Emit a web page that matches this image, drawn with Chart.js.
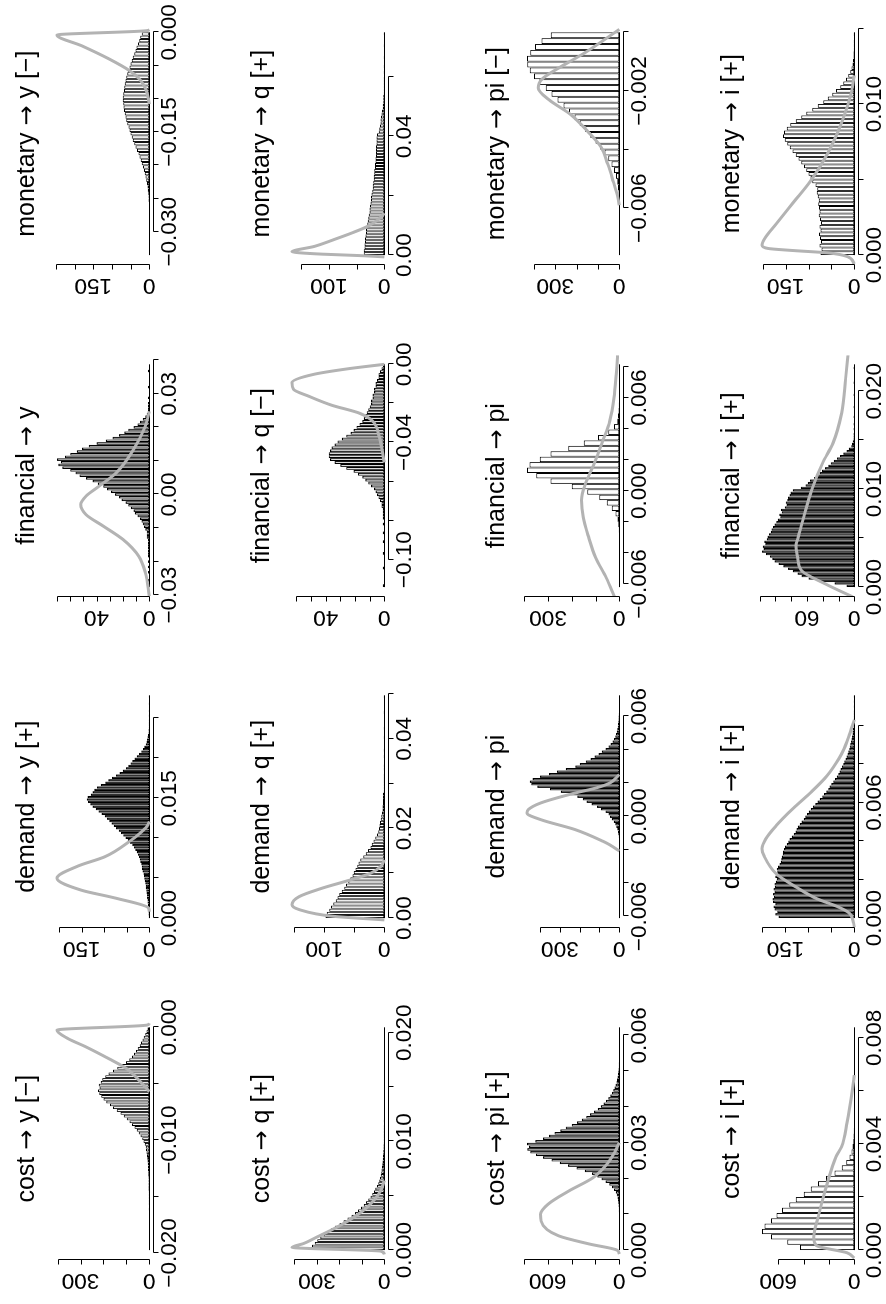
<!DOCTYPE html>
<html>
<head>
<meta charset="utf-8">
<title>Impact responses by shock</title>
<script src="https://cdn.jsdelivr.net/npm/chart.js@4.4.1/dist/chart.umd.min.js"></script>
<style>
  html, body { margin: 0; padding: 0; background: #fff; }
  body { width: 886px; height: 1304px; overflow: hidden; position: relative; }
  /* the 4x4 grid is laid out landscape and turned a quarter turn to the left */
  #sheet { position: absolute; left: 0; top: 0; width: 1304px; height: 886px;
           transform-origin: 0 0; transform: translate(0, 1304px) rotate(-90deg); }
  #sheet canvas { position: absolute; }
</style>
</head>
<body>
<div id="sheet"></div>
<script>
// ---- histogram counts (equal-width bins, left to right) ----
const yCost = [1,0,1,0,1,1,0,1,1,1,1,1,1,1,2,1,2,2,2,2,2,3,3,3,4,4,5,5,6,6,7,8,9,10,12,14,16,20,25,31,38,46,55,65,76,86,98,112,126,142,158,172,188,200,210,219,224,217,221,212,205,192,178,158,140,120,102,88,76,67,58,50,42,36,30,24,18,12,8];
const yDemand = [1,2,2,3,3,3,4,4,5,5,6,7,8,8,9,10,11,12,13,15,16,17,18,20,21,23,25,28,31,34,38,43,48,53,58,63,68,74,79,84,89,94,99,106,113,119,126,131,136,139,137,130,126,122,116,108,98,91,83,74,66,59,52,47,42,38,33,28,23,18,14,11,8,6,5,4,3,2,2,1,1,1,1,0,1,0,1,0,0,1,0,0,1];
const yFinancial = [0,0,1,0,0,1,0,1,0,1,0,1,1,1,1,1,1,1,2,2,2,3,4,5,6,7,9,11,12,14,16,18,21,23,26,29,32,35,39,43,48,53,56,60,66,69,67,70,64,60,55,51,46,40,33,28,23,19,16,12,9,7,5,3,2,1,1,1,1,0,1,0,0,0,1,0,0,0,0,0,1,0,0];
const yMonetary = [0,1,0,0,0,1,0,0,1,1,0,1,1,1,1,1,2,2,3,4,5,6,8,10,12,14,17,20,23,26,29,33,37,40,44,47,50,53,56,59,62,64,66,68,69,70,71,71,70,68,67,66,64,62,59,57,53,50,47,44,40,37,34,30,27,24,20];

const qCost = [338,322,310,298,285,271,255,238,220,200,182,164,146,130,117,104,92,81,71,62,54,46,40,33,27,23,19,16,14,12,10,9,8,7,6,5,5,4,4,3,3,3,2,2,2,2,1,2,1,1,1,1,1,0,1,1,0,1,0,0,1,0,1,0,0,0,1,0,0,1,0,0,0,0,1,0,0,0,0,1,0,1];
const qDemand = [98,96,92,89,85,81,78,75,71,67,64,60,57,53,51,48,45,43,40,35,31,27,23,21,18,15,12,10,9,8,7,6,5,4,3,3,2,2,2,2,1,1,1,1,1,1,0,1,1,0,0,1,0,1,0,0,0,1,0,0,1,0,0,0,0,1,0,0,0,0,1];
const qFinancial = [1,0,0,0,0,0,1,0,0,0,0,1,0,0,0,1,0,0,1,0,0,1,0,1,1,1,1,2,2,3,4,5,6,7,9,11,13,15,18,21,26,30,34,37,38,38,37,36,34,32,29,26,23,21,19,17,15,14,13,12,11,10,9,9,8,8,7,7,6,6,5,4,4,3,2,1];
const qMonetary = [37,37,36,36,35,35,34,33,33,32,31,30,29,28,27,27,26,25,24,24,23,22,21,21,20,19,19,18,18,17,17,16,16,15,15,15,15,14,14,14,13,10,9,8,7,7,6,5,4,3,3,2,2,2,1,1,1,1,1,1,0,1,0,1,0,0,1,0,0,0,1,0,0,0,1];

const piCost = [0,0,0,1,0,0,1,0,1,1,1,2,2,3,4,5,7,9,12,15,22,30,45,62,85,115,150,185,230,290,360,430,500,570,640,700,748,772,758,775,705,640,590,545,495,450,400,355,315,278,245,212,180,155,132,112,92,76,62,50,40,31,24,19,15,11,9,7,5,4,3,3,2,2,1,1,1,0,1,0,1,0,0];
const piDemand = [0,0,1,0,0,0,0,0,1,0,0,0,0,1,0,0,0,1,0,0,0,1,0,0,1,0,1,1,1,1,2,2,3,5,7,10,15,21,28,38,47,55,70,92,112,140,165,185,212,248,295,350,414,445,452,438,400,355,315,270,222,200,170,145,125,105,88,70,55,44,34,27,21,17,13,10,8,7,5,4,4,3,2,2,2,1,1,1,1];
const piFinancial = [0,0,0,1,0,0,1,1,1,1,2,4,8,16,32,53,85,135,200,290,350,389,378,335,290,215,150,90,47,22,9,5,3,2,1,1,0,1,0,0,0];
const piMonetary = [1,0,0,1,0,1,1,1,2,3,4,6,10,16,25,37,52,70,90,112,136,160,185,210,236,262,290,318,345,375,400,420,432,433,418,395,365,321];

const iCost = [429,530,657,729,709,657,614,571,514,463,400,343,286,223,157,100,63,37,23,14,9,6,4,3,2,1,1,1,0,1,0,0,1,0,0,0,0,1,0,0,0,0];
const iDemand = [165,172,168,174,176,172,177,178,175,177,174,176,173,174,171,169,172,170,168,169,166,163,160,159,158,156,155,153,151,147,144,141,136,132,128,126,123,119,115,110,107,103,99,95,90,85,80,75,70,66,61,57,54,50,46,42,38,35,32,30,27,24,22,19,17,15,13,11,10,9,7,6,5,4,4,3,2,2,1,1,1,1,1,0,1,0,1,0,1];
const iFinancial = [10,25,45,58,67,72,78,84,90,96,101,104,107,112,117,115,116,113,114,111,110,108,106,105,103,101,99,97,94,95,92,93,88,86,87,85,84,82,81,78,68,62,59,56,51,47,44,41,37,33,30,26,22,18,14,10,7,4,3,2,1,1,1,0,1,0,1,0,0,1,0,0,0,1,0,0,0,0,1,0,0,0,0,1,0,0,0,0,0,1,0];
const iMonetary = [74,72,76,73,75,77,74,76,73,75,78,76,77,79,78,80,82,81,85,92,96,100,105,110,116,122,128,135,141,147,152,156,154,148,140,128,116,105,92,80,68,58,48,40,31,24,18,13,9,6,4,3,2,2,1,1,1,0,1];

// ---- grey reference curves, [value, height on the count scale] ----
const yCostCurve = [[-0.0057,0],[-0.0048,40],[-0.00365,100],[-0.0028,175],[-0.0017,280],[-0.001,355],[-0.00024,403],[0.0002,10],[0.00036,0]];
const yDemandCurve = [[0.0008,0],[0.00125,1.5],[0.0025,75],[0.0035,151],[0.005,205],[0.0065,159],[0.0077,98],[0.0096,44],[0.0106,21],[0.0115,5],[0.0121,0]];
const yFinancialCurve = [[-0.0303,0],[-0.0233,3],[-0.0184,8],[-0.0134,20],[-0.0094,35],[-0.006,48],[-0.003,52],[-0.0005,48],[0.0025,38],[0.0065,25],[0.0134,12],[0.0204,3],[0.0248,0]];
const yMonetaryCurve = [[-0.0108,0],[-0.0101,2],[-0.0085,10],[-0.0071,25],[-0.0058,52],[-0.004,108],[-0.002,182],[-0.0004,247],[0.00025,6],[0.0004,0]];

const qCostCurve = [[-0.0004,0],[-0.0001,15],[0.00025,411],[0.0006,360],[0.0012,300],[0.0018,240],[0.0027,160],[0.0037,90],[0.0046,45],[0.0055,15],[0.0064,0]];
const qDemandCurve = [[-0.0004,0],[0.0004,85],[0.0019,142],[0.003,154],[0.0048,142],[0.0067,103],[0.0085,57],[0.01,23],[0.0115,6],[0.013,0]];
const qFinancialCurve = [[-0.0502,0],[-0.0366,3.6],[-0.029,8],[-0.025,17],[-0.0209,36],[-0.0162,52],[-0.0128,62],[-0.0094,63],[-0.0051,48],[-0.0022,24],[0,0]];
const qMonetaryCurve = [[-0.0006,0],[-0.0002,40],[0.0003,110],[0.0008,155],[0.0011,167],[0.003,125],[0.0051,93],[0.0075,58],[0.0096,31],[0.0118,12],[0.0141,0]];

const piCostCurve = [[-0.00011,0],[0,20],[0.00017,251],[0.0004,511],[0.00081,656],[0.001,661],[0.00128,598],[0.00165,425],[0.00202,222],[0.00239,107],[0.00276,35],[0.003,0]];
const piDemandCurve = [[-0.00208,0],[-0.0017,50],[-0.0015,82],[-0.0008,222],[-0.0002,397],[0.0002,466],[0.0004,460],[0.0008,397],[0.0014,222],[0.0017,117],[0.002,47],[0.0025,0]];
const piFinancialCurve = [[-0.0069,18],[-0.0056,55],[-0.0043,100],[-0.003,129],[-0.0017,152],[-0.0006,159],[0.0004,144],[0.0017,107],[0.0032,70],[0.0045,40],[0.006,22],[0.0075,13],[0.0088,7]];
const piMonetaryCurve = [[-0.0059,0],[-0.0056,8],[-0.0051,28],[-0.0045,54],[-0.0039,87],[-0.0034,146],[-0.0028,229],[-0.0023,330],[-0.0019,380],[-0.0016,363],[-0.0012,280],[-0.0007,162],[0.0001,0]];

const iCostCurve = [[-0.0003,0],[-0.0001,57],[0.00017,300],[0.00048,320],[0.00124,286],[0.00226,229],[0.00353,143],[0.0039,100],[0.0048,57],[0.00607,14],[0.0066,0]];
const iDemandCurve = [[-0.0005,0],[-0.00026,1.5],[0.00026,11],[0.0006,37],[0.001,81],[0.0016,126],[0.0023,170],[0.0032,196],[0.0036,201],[0.0041,193],[0.0048,170],[0.0057,133],[0.0065,96],[0.0074,59],[0.0083,33],[0.0088,22],[0.0095,11],[0.0103,0]];
const iFinancialCurve = [[-0.001,2],[0.0003,36],[0.0017,67],[0.0031,72],[0.0042,74],[0.0051,71],[0.0075,63],[0.0099,54],[0.0127,40],[0.0147,27],[0.0178,16],[0.0213,11],[0.0238,8]];
const iMonetaryCurve = [[-0.0006,0],[-0.0001,15],[0.00015,59],[0.0003,133],[0.00044,189],[0.00066,202],[0.0011,196],[0.0021,170],[0.0035,133],[0.0049,96],[0.0067,59],[0.0089,26],[0.0107,7],[0.0119,0]];

// ---- panel grid: rows are responses, columns are shocks ----
const shocks = ['cost', 'demand', 'financial', 'monetary'];
const responses = ['y', 'q', 'pi', 'i'];
const signs = [
  ['[−]', '[+]', '', '[−]'],
  ['[+]', '[+]', '[−]', '[+]'],
  ['[+]', '', '', '[−]'],
  ['[+]', '[+]', '[+]', '[+]']
];
const counts = [
  [yCost, yDemand, yFinancial, yMonetary],
  [qCost, qDemand, qFinancial, qMonetary],
  [piCost, piDemand, piFinancial, piMonetary],
  [iCost, iDemand, iFinancial, iMonetary]
];
const curves = [
  [yCostCurve, yDemandCurve, yFinancialCurve, yMonetaryCurve],
  [qCostCurve, qDemandCurve, qFinancialCurve, qMonetaryCurve],
  [piCostCurve, piDemandCurve, piFinancialCurve, piMonetaryCurve],
  [iCostCurve, iDemandCurve, iFinancialCurve, iMonetaryCurve]
];
const binStart = [
  [-0.01975, 0, -0.0276, -0.0335],
  [0, 0, -0.114, 0],
  [0, -0.0061, -0.0062, -0.0076],
  [0, 0, 0, 0]
];
const binWidth = [
  [0.00025, 0.0003, 0.0008, 0.0005],
  [0.00025, 0.0007, 0.0015, 0.001],
  [0.000075, 0.00015, 0.00035, 0.0002],
  [0.0002, 0.00013, 0.00025, 0.00025]
];

// value-axis ticks and the labels R kept after dropping overlaps
const valueTicks = [
  [[-0.02,-0.015,-0.01,-0.005,0], [0,0.005,0.01,0.015,0.02,0.025], [-0.03,-0.02,-0.01,0,0.01,0.02,0.03,0.04], [-0.03,-0.025,-0.02,-0.015,-0.01,-0.005,0]],
  [[0,0.005,0.01,0.015,0.02], [0,0.01,0.02,0.03,0.04,0.05], [-0.1,-0.08,-0.06,-0.04,-0.02,0], [0,0.02,0.04,0.06]],
  [[0,0.001,0.002,0.003,0.004,0.005,0.006], [-0.006,-0.004,-0.002,0,0.002,0.004,0.006], [-0.006,-0.004,-0.002,0,0.002,0.004,0.006,0.008], [-0.006,-0.004,-0.002,0]],
  [[0,0.002,0.004,0.006,0.008], [0,0.002,0.004,0.006,0.008,0.01], [0,0.005,0.01,0.015,0.02], [0,0.005,0.01,0.015]]
];
const valueLabels = [
  [['−0.020','','−0.010','','0.000'], ['0.000','','','0.015','',''], ['−0.03','','','0.00','','','0.03',''], ['−0.030','','','−0.015','','','0.000']],
  [['0.000','','0.010','','0.020'], ['0.00','','0.02','','0.04',''], ['−0.10','','','−0.04','','0.00'], ['0.00','','0.04','']],
  [['0.000','','','0.003','','','0.006'], ['−0.006','','','0.000','','','0.006'], ['−0.006','','','0.000','','','0.006',''], ['−0.006','','−0.002','']],
  [['0.000','','0.004','','0.008'], ['0.000','','','0.006','',''], ['0.000','','0.010','','0.020'], ['0.000','','0.010','']]
];
const countTicks = [
  [[0,100,200,300,400], [0,50,100,150,200], [0,10,20,30,40,50,60,70], [0,50,100,150,200,250]],
  [[0,100,200,300,400], [0,50,100,150], [0,10,20,30,40,50,60], [0,50,100,150]],
  [[0,200,400,600,800], [0,100,200,300,400], [0,100,200,300,400], [0,100,200,300,400]],
  [[0,200,400,600], [0,50,100,150,200], [0,20,40,60,80,100,120], [0,50,100,150,200]]
];
const countLabels = [
  [['0','','','300',''], ['0','','','150',''], ['0','','','','40','','',''], ['0','','','150','','']],
  [['0','','','300',''], ['0','','100',''], ['0','','','','40','',''], ['0','','100','']],
  [['0','','','600',''], ['0','','','300',''], ['0','','','300',''], ['0','','','300','']],
  [['0','','','600'], ['0','','','150',''], ['0','','','60','','',''], ['0','','','150','']]
];

// bar outline weight: the finely binned panels print almost solid
const barEdge = [
  [1, 1.15, 1.15, 1],
  [1, 1, 1.15, 1],
  [1.15, 1.15, 1, 1],
  [1, 1.15, 1.15, 1]
];

// ---- page geometry (landscape frame before the quarter turn) ----
const FONT = '"Liberation Sans", Arial, Helvetica, sans-serif';
const ARROW_FONT = '"DejaVu Sans", sans-serif';
const CELL_W = 331, CELL_H = 235;
const PLOT_W = 240.6, PLOT_H = 99.7;
const PAD_LEFT = 45, PAD_TOP = 53.3;
const colLeft = [0, 332, 663, 995];
const TICK = 5;

// title set in pieces so the arrow gets a long-shafted glyph
function drawTitle(ctx, parts, cx, baseline) {
  const fonts = ['25px ' + FONT, '24px ' + ARROW_FONT, '25px ' + FONT];
  const widths = parts.map((s, k) => { ctx.font = fonts[k]; return ctx.measureText(s).width; });
  let x0 = cx - widths.reduce((a, b) => a + b, 0) / 2;
  ctx.textAlign = 'left';
  parts.forEach((s, k) => {
    ctx.font = fonts[k];
    ctx.fillText(s, x0, baseline);
    x0 += widths[k];
  });
}

// R-style axes: lines only span the tick range, labels outside the plot region
function rAxes(p) {
  return {
    id: 'rAxes',
    beforeDatasetsDraw(chart) {
      // empty bins still print as a flat outline along zero
      const { ctx, scales: { x, y } } = chart;
      const y0 = Math.round(y.getPixelForValue(0)) + 0.5;
      ctx.save();
      ctx.strokeStyle = '#000';
      ctx.lineWidth = 1;
      ctx.beginPath();
      ctx.moveTo(x.getPixelForValue(p.lo), y0);
      ctx.lineTo(x.getPixelForValue(p.hi), y0);
      ctx.stroke();
      ctx.restore();
    },
    afterDatasetsDraw(chart) {
      const { ctx, chartArea: a, scales: { x, y } } = chart;
      ctx.save();
      ctx.strokeStyle = '#000';
      ctx.fillStyle = '#000';
      ctx.lineWidth = 1;

      const by = Math.round(a.bottom) + 0.5;
      const xs = p.xTicks.map(v => Math.round(x.getPixelForValue(v)) + 0.5);
      const lx = Math.round(a.left) - 0.5;
      const ys = p.yTicks.map(v => Math.round(y.getPixelForValue(v)) + 0.5);

      ctx.beginPath();
      ctx.moveTo(xs[0], by);
      ctx.lineTo(xs[xs.length - 1], by);
      xs.forEach(px => { ctx.moveTo(px, by); ctx.lineTo(px, by + TICK); });
      ctx.moveTo(lx, ys[0]);
      ctx.lineTo(lx, ys[ys.length - 1]);
      ys.forEach(py => { ctx.moveTo(lx, py); ctx.lineTo(lx - TICK, py); });
      ctx.stroke();

      ctx.font = '22.5px ' + FONT;
      ctx.textAlign = 'center';
      ctx.textBaseline = 'alphabetic';
      p.xLabels.forEach((s, k) => {
        if (s) ctx.fillText(s, x.getPixelForValue(p.xTicks[k]), a.bottom + 23);
      });
      p.yLabels.forEach((s, k) => {
        if (!s) return;
        ctx.save();
        ctx.translate(a.left - 15.5, y.getPixelForValue(p.yTicks[k]));
        ctx.rotate(-Math.PI / 2);
        ctx.fillText(s, 0, 0);
        ctx.restore();
      });

      drawTitle(ctx, p.title, (a.left + a.right) / 2, a.top - 19.7);
      ctx.restore();
    }
  };
}

const sheet = document.getElementById('sheet');

responses.forEach((resp, r) => {
  shocks.forEach((shock, c) => {
    const n = counts[r][c];
    const lo = binStart[r][c];
    const w = binWidth[r][c];
    const hi = lo + n.length * w;
    const curve = curves[r][c];
    const top = Math.max(Math.max(...n), Math.max(...curve.map(pt => pt[1])));

    const canvas = document.createElement('canvas');
    canvas.width = CELL_W;
    canvas.height = CELL_H;
    canvas.style.left = colLeft[c] + 'px';
    canvas.style.top = (r * CELL_H) + 'px';
    sheet.appendChild(canvas);

    const title = [shock + ' ', '→', ' ' + resp + (signs[r][c] ? ' ' + signs[r][c] : '')];

    new Chart(canvas.getContext('2d'), {
      type: 'bar',
      data: {
        datasets: [
          {
            type: 'bar',
            data: n.map((v, k) => ({ x: lo + (k + 0.5) * w, y: v })),
            backgroundColor: '#ffffff',
            borderColor: '#000000',
            borderWidth: barEdge[r][c],
            borderSkipped: false,
            inflateAmount: 0,
            barPercentage: 1,
            categoryPercentage: 1,
            order: 2
          },
          {
            type: 'line',
            data: curve.map(pt => ({ x: pt[0], y: pt[1] })),
            borderColor: '#b3b3b3',
            borderWidth: 3,
            pointRadius: 0,
            fill: false,
            cubicInterpolationMode: 'monotone',
            order: 1
          }
        ]
      },
      options: {
        responsive: false,
        animation: false,
        events: [],
        devicePixelRatio: 1,
        layout: {
          padding: {
            left: PAD_LEFT,
            top: PAD_TOP,
            right: CELL_W - PAD_LEFT - PLOT_W,
            bottom: CELL_H - PAD_TOP - PLOT_H
          }
        },
        scales: {
          x: {
            type: 'linear',
            min: lo - 0.04 * (hi - lo),
            max: hi + 0.04 * (hi - lo),
            offset: false,
            display: false
          },
          y: {
            type: 'linear',
            min: -0.04 * top,
            max: 1.04 * top,
            display: false
          }
        },
        plugins: {
          legend: { display: false },
          tooltip: { enabled: false }
        }
      },
      plugins: [rAxes({
        title,
        lo,
        hi,
        xTicks: valueTicks[r][c],
        xLabels: valueLabels[r][c],
        yTicks: countTicks[r][c],
        yLabels: countLabels[r][c]
      })]
    });
  });
});
</script>
</body>
</html>
